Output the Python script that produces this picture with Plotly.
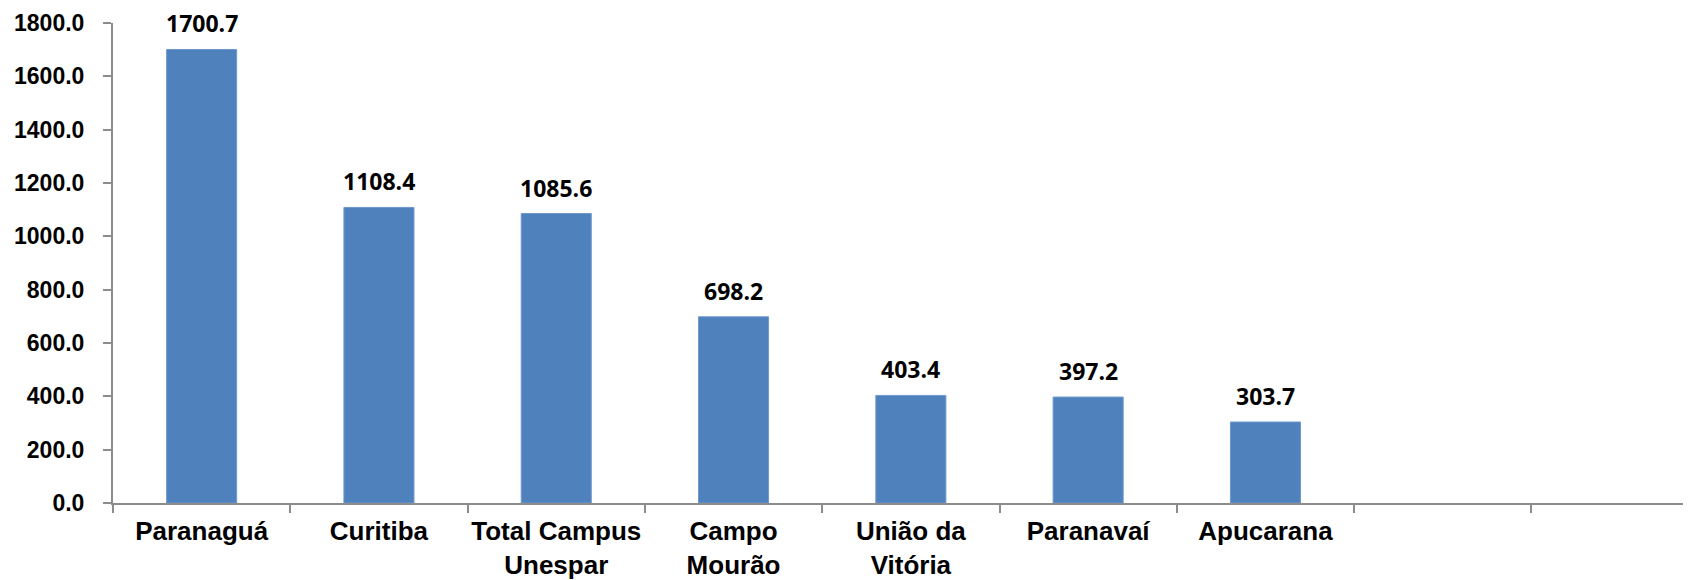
import plotly.graph_objects as go

categories = ["Paranaguá", "Curitiba", "Total Campus<br>Unespar", "Campo<br>Mourão",
              "União da<br>Vitória", "Paranavaí", "Apucarana", " ", "  "]
values = [1700.7, 1108.4, 1085.6, 698.2, 403.4, 397.2, 303.7, None, None]
y_ticks = [0, 200, 400, 600, 800, 1000, 1200, 1400, 1600, 1800]

# the page body adds an 8px offset, so the figure is sized to fit the window
W, H = 1683, 572
ML, MR, MT, MB = 105, 0, 15, 77
cat_px = 177.3
plot_w = W - ML - MR
x_max = -0.5 + plot_w / cat_px

fig = go.Figure()
fig.add_trace(go.Bar(
    x=categories, y=values, width=0.395,
    marker=dict(color="#4F81BD", line=dict(color="#6E98CC", width=1)),
    hoverinfo="x+y",
))

for c, v in zip(categories, values):
    if v is None:
        continue
    fig.add_annotation(
        x=c, y=v, text=f"{v:.1f}", showarrow=False,
        yanchor="bottom", yshift=8,
        font=dict(family="Open Sans", size=23, color="#000000", weight="bold"),
    )

axis_color = "#8C8C8C"
fig.update_layout(
    width=W, height=H,
    margin=dict(l=ML, r=MR, t=MT, b=MB, pad=0, autoexpand=False),
    plot_bgcolor="white", paper_bgcolor="white",
    showlegend=False,
    xaxis=dict(
        type="category", categoryorder="array", categoryarray=categories,
        range=[-0.5, x_max], automargin=False, tickangle=0,
        showline=True, linecolor=axis_color, linewidth=2,
        ticks="outside", tickson="boundaries", ticklen=8, tickcolor=axis_color, tickwidth=2,
        showgrid=False, zeroline=False,
        tickfont=dict(family="Liberation Sans", size=26, color="#000000", weight="bold"),
        ticklabelstandoff=4,
    ),
    yaxis=dict(
        range=[0, 1800], tickvals=y_ticks, tickformat=".1f", automargin=False,
        showline=True, linecolor=axis_color, linewidth=2,
        ticks="outside", ticklen=8, tickcolor=axis_color, tickwidth=2,
        showgrid=False, zeroline=False,
        tickfont=dict(family="Liberation Sans", size=23, color="#000000", weight="bold"),
        ticklabelstandoff=14,
    ),
)

fig.write_html("out.html")
